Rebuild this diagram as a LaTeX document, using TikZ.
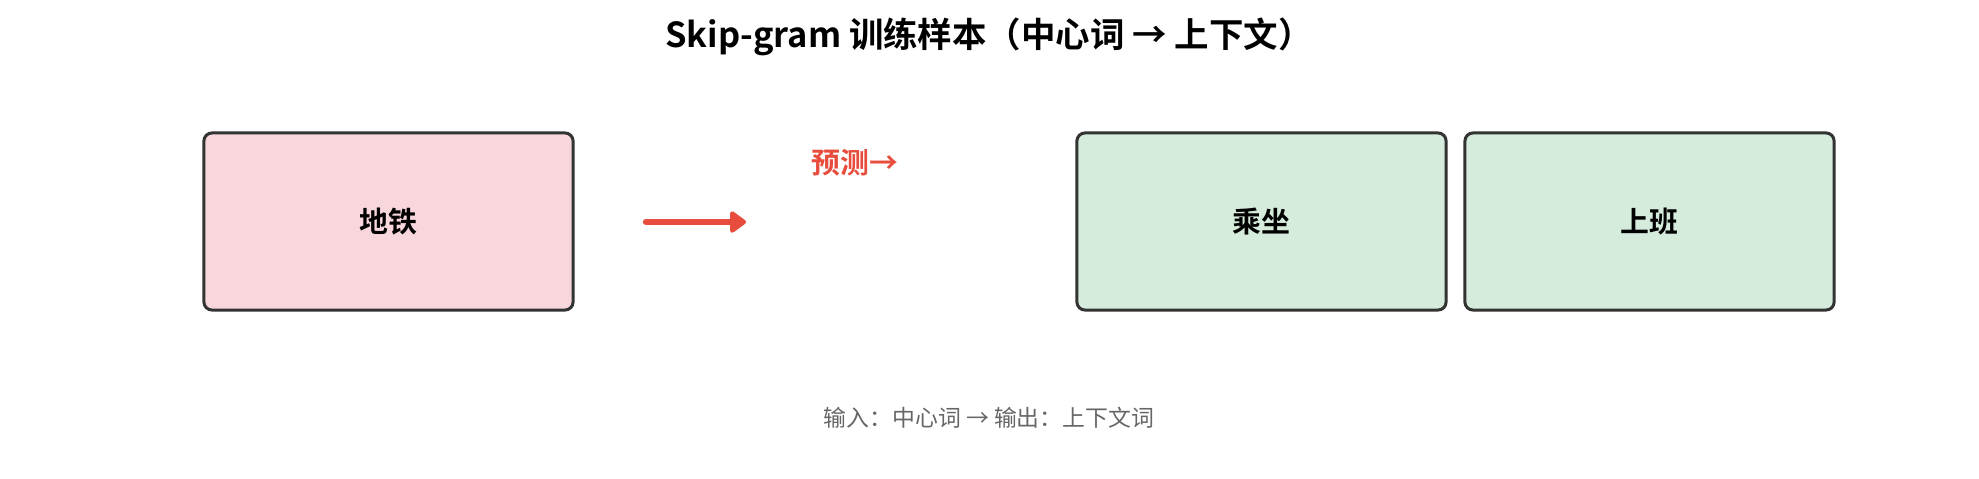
\documentclass[tikz,border=0pt]{standalone}
\usepackage{fontspec}
\newfontfamily\cjk{Noto Sans CJK SC}
\newfontfamily\cjkb{Noto Sans CJK SC Bold}
\usetikzlibrary{arrows.meta}
\definecolor{pinkfill}{HTML}{F7D7DB}
\definecolor{greenfill}{HTML}{D5ECDC}
\definecolor{edgegray}{HTML}{333333}
\definecolor{redc}{HTML}{E74C3C}
\definecolor{txtgray}{HTML}{666666}
\begin{document}
\begin{tikzpicture}[x=0.01cm,y=-0.01cm,
  wordbox/.style={draw=edgegray,line width=0.85pt,rounded corners=2.3pt,minimum width=3.69cm,minimum height=1.77cm,inner sep=0pt,font=\cjkb\fontsize{8.2}{9}\selectfont},
  predarrow/.style={draw=redc,line width=1.8pt,line cap=round,-{Triangle[length=5pt,width=7pt,round]}}]
\useasboundingbox (0,0) rectangle (1979,478);
\node[font=\cjkb\fontsize{9.8}{12}\selectfont] (title) at (989,37) {Skip-gram 训练样本（中心词 → 上下文）};
\node[wordbox,fill=pinkfill] (center) at (388.5,221.5) {地铁};
\node[wordbox,fill=greenfill] (ctx1) at (1261.5,221.5) {乘坐};
\node[wordbox,fill=greenfill] (ctx2) at (1649.5,221.5) {上班};
\coordinate (a0) at (646,222);
\coordinate (a1) at (746,222);
\draw[predarrow] (a0) -- (a1);
\node[font=\cjkb\fontsize{8.2}{9}\selectfont,text=redc] (pred) at (855,163) {预测→};
\node[font=\cjk\fontsize{6.5}{8}\selectfont,text=txtgray] (note) at (989,418) {输入：中心词 → 输出：上下文词};
\end{tikzpicture}
\end{document}
